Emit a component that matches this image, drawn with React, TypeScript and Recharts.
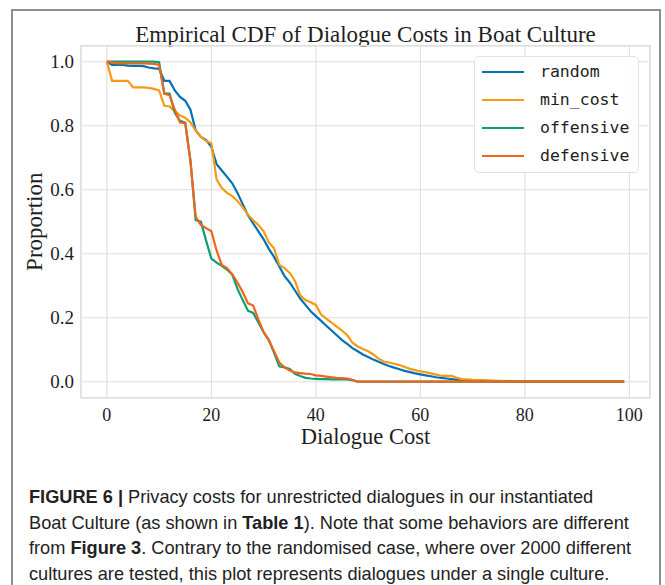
import React from 'react';
import { LineChart, Line, XAxis, YAxis, CartesianGrid, Legend, ReferenceArea } from 'recharts';

// Dialogue cost values at which the empirical distribution is evaluated
const costs = [
  0, 1, 2, 3, 4, 5, 6, 7, 8, 9,
  10, 11, 12, 13, 14, 15, 16, 17, 18, 19,
  20, 21, 22, 23, 24, 25, 26, 27, 28, 29,
  30, 31, 32, 33, 34, 35, 36, 37, 38, 39,
  40, 41, 42, 43, 44, 45, 46, 47, 48, 49,
  50, 51, 52, 53, 54, 55, 56, 57, 58, 59,
  60, 61, 62, 63, 64, 65, 66, 67, 68, 69,
  70, 72, 75, 80, 85, 90, 95, 99,
];

// Proportion of dialogues with cost >= x, per behaviour
const randomValues = [
  1.0, 0.99, 0.99, 0.99, 0.988, 0.987, 0.987, 0.986, 0.982, 0.979,
  0.978, 0.94, 0.94, 0.91, 0.89, 0.878, 0.85, 0.785, 0.765, 0.755,
  0.734, 0.68, 0.66, 0.64, 0.62, 0.59, 0.555, 0.52, 0.495, 0.47,
  0.445, 0.415, 0.39, 0.36, 0.33, 0.31, 0.285, 0.26, 0.24, 0.22,
  0.205, 0.19, 0.175, 0.16, 0.145, 0.13, 0.118, 0.105, 0.095, 0.085,
  0.077, 0.069, 0.062, 0.055, 0.049, 0.044, 0.039, 0.034, 0.03, 0.026,
  0.023, 0.02, 0.017, 0.014, 0.012, 0.01, 0.008, 0.006, 0.005, 0.004,
  0.003, 0.002, 0.001, 0.0005, 0, 0, 0, 0,
];

const minCostValues = [
  1.0, 0.94, 0.94, 0.94, 0.94, 0.92, 0.92, 0.92, 0.918, 0.915,
  0.91, 0.862, 0.86, 0.845, 0.832, 0.825, 0.81, 0.785, 0.765, 0.752,
  0.745, 0.632, 0.605, 0.59, 0.58, 0.565, 0.545, 0.522, 0.505, 0.49,
  0.47, 0.435, 0.417, 0.365, 0.355, 0.34, 0.315, 0.27, 0.255, 0.248,
  0.24, 0.21, 0.197, 0.185, 0.172, 0.16, 0.145, 0.122, 0.11, 0.102,
  0.095, 0.085, 0.072, 0.063, 0.06, 0.056, 0.052, 0.046, 0.04, 0.036,
  0.032, 0.03, 0.026, 0.022, 0.018, 0.018, 0.018, 0.012, 0.008, 0.007,
  0.006, 0.005, 0.003, 0.001, 0, 0, 0, 0,
];

const offensiveValues = [
  1.0, 1.0, 1.0, 1.0, 1.0, 1.0, 1.0, 1.0, 1.0, 1.0,
  0.998, 0.9, 0.9, 0.84, 0.815, 0.81, 0.69, 0.505, 0.5, 0.44,
  0.385, 0.372, 0.362, 0.35, 0.335, 0.29, 0.255, 0.222, 0.215, 0.185,
  0.155, 0.13, 0.09, 0.048, 0.045, 0.04, 0.025, 0.018, 0.012, 0.01,
  0.009, 0.008, 0.008, 0.007, 0.007, 0.007, 0.007, 0.005, 0, 0,
  0, 0, 0, 0, 0, 0, 0, 0, 0, 0,
  0, 0, 0, 0, 0, 0, 0, 0, 0, 0,
  0, 0, 0, 0, 0, 0, 0, 0,
];

const defensiveValues = [
  1.0, 0.997, 0.995, 0.995, 0.995, 0.995, 0.995, 0.995, 0.994, 0.993,
  0.99, 0.9, 0.895, 0.85, 0.81, 0.808, 0.69, 0.515, 0.49, 0.48,
  0.47, 0.41, 0.365, 0.355, 0.335, 0.31, 0.28, 0.245, 0.238, 0.195,
  0.155, 0.13, 0.095, 0.06, 0.045, 0.035, 0.029, 0.027, 0.025, 0.024,
  0.02, 0.018, 0.016, 0.014, 0.012, 0.011, 0.01, 0.006, 0, 0,
  0, 0, 0, 0, 0, 0, 0, 0, 0, 0,
  0, 0, 0, 0, 0, 0, 0, 0, 0, 0,
  0, 0, 0, 0, 0, 0, 0, 0,
];

const xTicks = [0, 20, 40, 60, 80, 100];
const yTicks = [0, 0.2, 0.4, 0.6, 0.8, 1.0];
const xDomain: [number, number] = [-4.95, 103.95];
const yDomain: [number, number] = [-0.05, 1.05];

const series = [
  { key: 'random', name: 'random', color: '#0072B5' },
  { key: 'min_cost', name: 'min_cost', color: '#F59A14' },
  { key: 'offensive', name: 'offensive', color: '#0C9E70' },
  { key: 'defensive', name: 'defensive', color: '#F0641E' },
];

const data = costs.map((cost, i) => ({
  cost,
  random: randomValues[i],
  min_cost: minCostValues[i],
  offensive: offensiveValues[i],
  defensive: defensiveValues[i],
}));

const SERIF = '"Liberation Serif", "DejaVu Serif", serif';
const TEXT = '#1e1e1e';
const GRID = '#dedede';

// Legend rows keep the plotting order of the series
const renderLegend = () => (
  <div
    style={{
      width: 165,
      height: 117,
      boxSizing: 'border-box',
      border: '1px solid #e2e2e2',
      borderRadius: 5,
      background: 'rgba(255,255,255,0.88)',
      paddingTop: 1,
    }}
  >
    {series.map((s) => (
      <div key={s.key} style={{ display: 'flex', alignItems: 'center', height: 28 }}>
        <span
          style={{
            display: 'inline-block',
            width: 42,
            height: 0,
            borderTop: `2.2px solid ${s.color}`,
            marginLeft: 7,
            marginRight: 16,
          }}
        />
        <span style={{ fontFamily: '"DejaVu Sans Mono", monospace', fontSize: 16.5, color: TEXT, lineHeight: '28px' }}>
          {s.name}
        </span>
      </div>
    ))}
  </div>
);

const xLabel = (props: any) => {
  const vb = props.viewBox;
  return (
    <text
      x={vb.x + vb.width / 2}
      y={vb.y + 46}
      textAnchor="middle"
      fontFamily={SERIF}
      fontSize={22.5}
      fill={TEXT}
    >
      Dialogue Cost
    </text>
  );
};

const yLabel = (props: any) => {
  const vb = props.viewBox;
  const cx = vb.x + 42.5;
  const cy = vb.y + vb.height / 2;
  return (
    <text
      x={cx}
      y={cy}
      transform={`rotate(-90, ${cx}, ${cy})`}
      textAnchor="middle"
      fontFamily={SERIF}
      fontSize={23}
      fill={TEXT}
    >
      Proportion
    </text>
  );
};

const captionLine: React.CSSProperties = {
  whiteSpace: 'nowrap',
  height: 25.6,
  lineHeight: '25.6px',
};

export default function App() {
  return (
    <div
      style={{
        position: 'absolute',
        left: 0,
        top: 0,
        width: 665,
        height: 585,
        background: '#ffffff',
        overflow: 'hidden',
      }}
    >
      <div
        style={{
          position: 'absolute',
          left: 11,
          top: 9,
          width: 646,
          height: 620,
          border: '2px solid #8e8e8e',
        }}
      />
      <div
        style={{
          position: 'absolute',
          left: 81,
          width: 569,
          top: 22.5,
          textAlign: 'center',
          fontFamily: SERIF,
          fontSize: 23,
          lineHeight: '23px',
          color: TEXT,
          whiteSpace: 'nowrap',
        }}
      >
        Empirical CDF of Dialogue Costs in Boat Culture
      </div>
      <div style={{ position: 'absolute', left: 0, top: 0 }}>
        <LineChart
          width={665}
          height={460}
          data={data}
          margin={{ top: 45.7, right: 15, left: 0, bottom: 32.3 }}
        >
          <CartesianGrid stroke={GRID} strokeWidth={1.1} />
          <ReferenceArea
            x1={xDomain[0]}
            x2={xDomain[1]}
            y1={yDomain[0]}
            y2={yDomain[1]}
            fill="none"
            stroke={GRID}
            strokeWidth={1.4}
            ifOverflow="visible"
          />
          <XAxis
            dataKey="cost"
            type="number"
            domain={xDomain}
            ticks={xTicks}
            allowDataOverflow
            height={30}
            axisLine={false}
            tickLine={false}
            tickSize={6}
            tickMargin={4.5}
            tick={{ fontFamily: SERIF, fontSize: 18, fill: TEXT }}
            label={xLabel}
          />
          <YAxis
            type="number"
            domain={yDomain}
            ticks={yTicks}
            allowDataOverflow
            width={81}
            axisLine={false}
            tickLine={false}
            tickSize={5}
            tickMargin={2}
            tickFormatter={(v: number) => v.toFixed(1)}
            tick={{ fontFamily: SERIF, fontSize: 19, fill: TEXT }}
            label={yLabel}
          />
          {series.map((s) => (
            <Line
              key={s.key}
              type="linear"
              dataKey={s.key}
              name={s.name}
              stroke={s.color}
              strokeWidth={2.2}
              dot={false}
              activeDot={false}
              isAnimationActive={false}
            />
          ))}
          <Legend
            layout="vertical"
            align="center"
            verticalAlign="middle"
            content={renderLegend}
            wrapperStyle={{ top: 56, left: 474, width: 165, height: 117, right: 'auto', bottom: 'auto' }}
          />
        </LineChart>
      </div>
      <div
        style={{
          position: 'absolute',
          left: 29,
          top: 485.2,
          fontFamily: '"Liberation Sans", Arial, sans-serif',
          fontSize: 18.2,
          color: '#222',
        }}
      >
        <div style={captionLine}>
          <b>FIGURE 6 |</b> Privacy costs for unrestricted dialogues in our instantiated
        </div>
        <div style={captionLine}>
          Boat Culture (as shown in <b>Table 1</b>). Note that some behaviors are different
        </div>
        <div style={captionLine}>
          from <b>Figure 3</b>. Contrary to the randomised case, where over 2000 different
        </div>
        <div style={captionLine}>
          cultures are tested, this plot represents dialogues under a single culture.
        </div>
      </div>
    </div>
  );
}
